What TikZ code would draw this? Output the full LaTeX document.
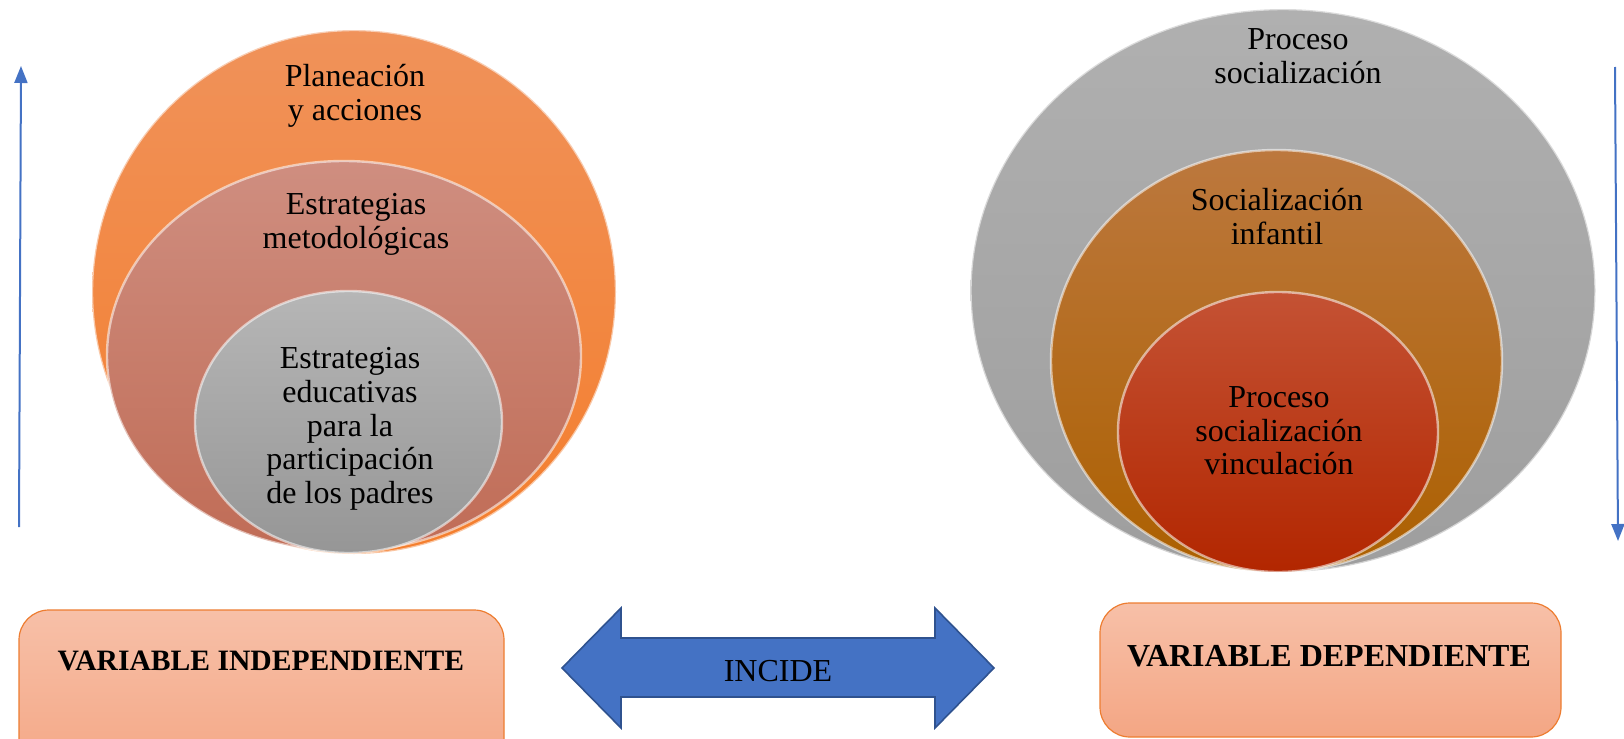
\documentclass[tikz,border=0pt]{standalone}
\usepackage{fontspec}
\setmainfont{Liberation Serif}
\usetikzlibrary{arrows.meta}

\definecolor{naranjaA}{RGB}{240,146,90}
\definecolor{naranjaB}{RGB}{244,126,45}
\definecolor{rosaA}{RGB}{207,142,128}
\definecolor{rosaB}{RGB}{192,108,86}
\definecolor{grisA}{RGB}{182,182,182}
\definecolor{grisB}{RGB}{150,150,150}
\definecolor{grisC}{RGB}{176,176,176}
\definecolor{grisD}{RGB}{158,158,158}
\definecolor{cafeA}{RGB}{188,120,62}
\definecolor{cafeB}{RGB}{172,96,0}
\definecolor{rojoA}{RGB}{196,82,52}
\definecolor{rojoB}{RGB}{178,38,0}
\definecolor{cajaA}{RGB}{247,192,168}
\definecolor{cajaB}{RGB}{244,166,132}
\definecolor{cajaborde}{RGB}{237,125,49}
\definecolor{azul}{RGB}{68,114,196}
\definecolor{azulborde}{RGB}{47,82,143}

\begin{document}
\begin{tikzpicture}[x=0.5pt, y=0.5pt,
    etiqueta/.style={align=center, font=\fontsize{16}{16.8}\selectfont},
    caja/.style={draw=cajaborde, line width=0.6pt, rounded corners=15pt, top color=cajaA, bottom color=cajaB},
    brillo/.style={draw=white, draw opacity=0.55, line width=1.2pt},
    flecha/.style={azul, line width=1pt, -{Triangle[width=6.5pt,length=8.5pt]}}]

    \useasboundingbox (0,0) rectangle (1624,-739);
    \clip (0,0) rectangle (1624,-739);

    % Centers of the ellipses
    \coordinate (C1) at (354,-292);     % planeacion
    \coordinate (C2) at (344,-356);     % metodologicas
    \coordinate (C3) at (348.5,-422);   % educativas
    \coordinate (C4) at (1283,-290.5);  % proceso
    \coordinate (C5) at (1276.5,-361);  % infantil
    \coordinate (C6) at (1278,-432);    % vinculacion

    % Left target
    \shade[top color=naranjaA, bottom color=naranjaB] (C1) ellipse [x radius=262, y radius=262];
    \draw[brillo] (C1) ellipse [x radius=262, y radius=262];
    \shade[top color=rosaA, bottom color=rosaB] (C2) ellipse [x radius=237, y radius=195];
    \draw[brillo] (C2) ellipse [x radius=237, y radius=195];
    \shade[top color=grisA, bottom color=grisB] (C3) ellipse [x radius=153.5, y radius=131];
    \draw[brillo] (C3) ellipse [x radius=153.5, y radius=131];

    % Right target
    \shade[top color=grisC, bottom color=grisD] (C4) ellipse [x radius=312.5, y radius=281.5];
    \draw[brillo] (C4) ellipse [x radius=312.5, y radius=281.5];
    \shade[top color=cafeA, bottom color=cafeB] (C5) ellipse [x radius=225.5, y radius=211];
    \draw[brillo] (C5) ellipse [x radius=225.5, y radius=211];
    \shade[top color=rojoA, bottom color=rojoB] (C6) ellipse [x radius=160, y radius=140];
    \draw[brillo] (C6) ellipse [x radius=160, y radius=140];

    % Texts of the ellipses
    \node[etiqueta] (planeacion) at (355,-96) {Planeación\\y acciones};
    \node[etiqueta] (metodologicas) at (356,-224.5) {Estrategias\\metodológicas};
    \node[etiqueta] (educativas) at (350,-429) {Estrategias\\educativas\\para la\\participación\\de los padres};
    \node[etiqueta] (proceso) at (1298,-56) {Proceso\\socialización};
    \node[etiqueta] (infantil) at (1277,-216.5) {Socialización\\infantil};
    \node[etiqueta] (vinculacion) at (1279,-431) {Proceso\\socialización\\vinculación};

    % Side arrows
    \coordinate (A1) at (19,-527);
    \coordinate (A2) at (21,-66);
    \coordinate (A3) at (1615,-67);
    \coordinate (A4) at (1618,-541);
    \draw[flecha] (A1) -- (A2);
    \draw[flecha] (A3) -- (A4);

    % Boxes
    \path[caja] (19,-610) rectangle (504,-780);
    \node[font=\fontsize{14.8}{17}\selectfont\bfseries] (independiente) at (261,-661) {VARIABLE INDEPENDIENTE};
    \path[caja] (1100,-603) rectangle (1561,-737);
    \node[font=\fontsize{16}{18}\selectfont\bfseries] (dependiente) at (1329,-656) {VARIABLE DEPENDIENTE};

    % Double arrow
    \filldraw[fill=azul, draw=azulborde, line width=0.8pt]
        (562,-668) -- (621,-608) -- (621,-638) -- (935,-638) -- (935,-608)
        -- (994,-668) -- (935,-728) -- (935,-697) -- (621,-697) -- (621,-728) -- cycle;
    \node[font=\fontsize{16}{16}\selectfont] (incide) at (778,-671) {INCIDE};

\end{tikzpicture}
\end{document}
